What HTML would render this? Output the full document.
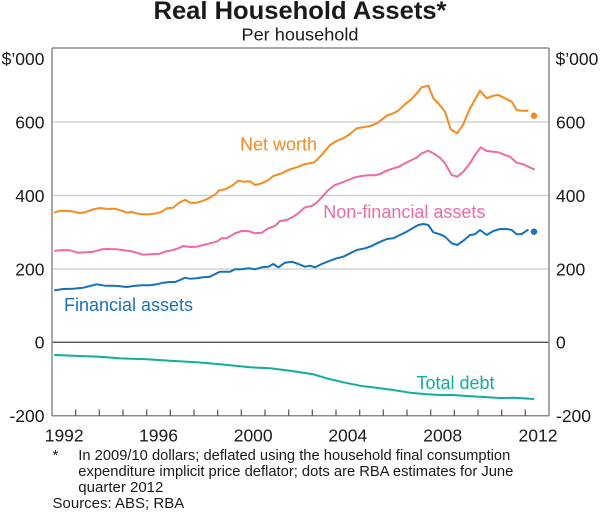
<!DOCTYPE html>
<html>
<head>
<meta charset="utf-8">
<style>
  html, body { margin: 0; padding: 0; background: #ffffff; }
  svg { display: block; }
  text { font-family: "Liberation Sans", Arial, sans-serif; fill: #1a1a1a; }
</style>
</head>
<body>
<svg width="600" height="514" viewBox="0 0 600 514" xmlns="http://www.w3.org/2000/svg">
  <!-- Title -->
  <text x="300" y="19" text-anchor="middle" font-size="25" font-weight="bold" textLength="293" lengthAdjust="spacingAndGlyphs">Real Household Assets*</text>
  <text x="300" y="40.3" text-anchor="middle" font-size="17.5" textLength="117" lengthAdjust="spacingAndGlyphs">Per household</text>

  <!-- Gridlines -->
  <g stroke="#cccccc" stroke-width="1.3">
    <line x1="52" y1="122" x2="549" y2="122"/>
    <line x1="52" y1="195.5" x2="549" y2="195.5"/>
    <line x1="52" y1="269" x2="549" y2="269"/>
  </g>
  <!-- Zero line -->
  <line x1="52" y1="342.3" x2="549" y2="342.3" stroke="#555555" stroke-width="1.3"/>

  <!-- Frame -->
  <g stroke="#8c8c8c" stroke-width="1.5" fill="none">
    <line x1="52" y1="48" x2="549" y2="48"/>
    <line x1="52" y1="48" x2="52" y2="416"/>
    <line x1="549" y1="48" x2="549" y2="416"/>
    <line x1="52" y1="415.8" x2="549" y2="415.8"/>
  </g>

  <!-- X ticks -->
  <g stroke="#555555" stroke-width="1.2">
    <line x1="75.7" y1="409.5" x2="75.7" y2="416"/>
    <line x1="99.3" y1="409.5" x2="99.3" y2="416"/>
    <line x1="123" y1="409.5" x2="123" y2="416"/>
    <line x1="146.7" y1="409.5" x2="146.7" y2="416"/>
    <line x1="170.3" y1="409.5" x2="170.3" y2="416"/>
    <line x1="194" y1="409.5" x2="194" y2="416"/>
    <line x1="217.7" y1="409.5" x2="217.7" y2="416"/>
    <line x1="241.3" y1="409.5" x2="241.3" y2="416"/>
    <line x1="265" y1="409.5" x2="265" y2="416"/>
    <line x1="288.7" y1="409.5" x2="288.7" y2="416"/>
    <line x1="312.3" y1="409.5" x2="312.3" y2="416"/>
    <line x1="336" y1="409.5" x2="336" y2="416"/>
    <line x1="359.7" y1="409.5" x2="359.7" y2="416"/>
    <line x1="383.3" y1="409.5" x2="383.3" y2="416"/>
    <line x1="407" y1="409.5" x2="407" y2="416"/>
    <line x1="430.7" y1="409.5" x2="430.7" y2="416"/>
    <line x1="454.3" y1="409.5" x2="454.3" y2="416"/>
    <line x1="478" y1="409.5" x2="478" y2="416"/>
    <line x1="501.7" y1="409.5" x2="501.7" y2="416"/>
    <line x1="525.3" y1="409.5" x2="525.3" y2="416"/>
  </g>

  <!-- Left axis labels -->
  <g font-size="17.5" text-anchor="end">
    <text x="44.5" y="65">$’000</text>
    <text x="44.5" y="128.3">600</text>
    <text x="44.5" y="201.8">400</text>
    <text x="44.5" y="275.3">200</text>
    <text x="44.5" y="348.6">0</text>
    <text x="44.5" y="422.2">-200</text>
  </g>
  <!-- Right axis labels -->
  <g font-size="17.5" text-anchor="start">
    <text x="555.5" y="65">$’000</text>
    <text x="556" y="128.3">600</text>
    <text x="556" y="201.8">400</text>
    <text x="556" y="275.3">200</text>
    <text x="556" y="348.6">0</text>
    <text x="556" y="422.2">-200</text>
  </g>

  <!-- X labels -->
  <g font-size="17.5" text-anchor="middle">
    <text x="64.2" y="441.7">1992</text>
    <text x="158.5" y="441.7">1996</text>
    <text x="253.2" y="441.7">2000</text>
    <text x="347.8" y="441.7">2004</text>
    <text x="442.7" y="441.7">2008</text>
    <text x="538" y="441.7">2012</text>
  </g>

  <!-- Series -->
  <g fill="none" stroke-width="2" stroke-linejoin="round" stroke-linecap="round">
    <!-- Net worth -->
    <polyline stroke="#f68b1f" points="55,212.3 60,210.7 71.7,211.3 80,213 85,212.3 93.3,209.3 100,208 108.3,209 115,208.7 121.7,210.7 126.7,212.7 131.7,212 138.3,213.7 143.3,214.3 150,214.3 156.7,213.3 161.7,211.7 166.7,208.3 173.3,207.7 178.3,203.3 185,199.7 190,202.7 196.7,202.7 203.3,200.7 210,197.7 216.7,193.3 218.3,190.7 225,189.3 231.7,186 238.3,180.7 243.3,181.7 250,181.3 255,185 261.7,183.3 268.3,180 273.3,176 281.7,173.3 290,169.3 298.3,166.7 305,164 313.3,162.7 316.7,160 321.7,155 330,145 336.7,141 343.3,138.3 350,134 356.7,128.3 363.3,127.3 370,126 376.7,123.3 380,121 386.7,115.7 393.3,113.3 398.3,110.7 405,104.3 411.7,99 416.7,93.3 421.7,87.3 428.3,85.7 433.3,98.3 438.3,103.3 445,111.7 450.7,129.3 457.3,133.3 463.3,124.3 470,108.3 480,90.7 486.7,98.3 493.3,95.7 498.3,95 505,98.3 511.7,101.7 516.7,110 521.7,110.7 527.7,110.7"/>
    <!-- Non-financial assets -->
    <polyline stroke="#ee6aa7" points="55,250.7 63.3,250 70,250.3 78.3,252.7 86.7,252.3 93.3,251.7 101.7,249.3 108.3,249 116.7,249.3 121.7,250 130,251 136.7,252.7 143.3,254.7 150,254.3 160,253.7 165,251.7 171.7,250.3 178.3,248.3 183.3,246 190,247 196.7,246.7 203.3,245 210,243.3 216.7,241.7 221.7,238.3 226.7,238.3 235,233.3 241.7,231 248.3,231 255,233.3 261.7,232.7 268.3,228.3 275,226 280,221 286.7,220 293.3,216.7 298.3,213.3 305,207.3 311.7,206 316.7,202.7 321.7,197.3 328.3,190 335,185 341.7,182.7 348.3,180 355,177.3 361.7,176 368.3,175.3 375,175.3 380,174 386.7,170.7 393.3,168.3 398.3,167 405,163.3 411.7,160 416.7,157.7 421.7,153.3 428.3,150.7 433.3,153.3 440,157.7 445,163.3 451.7,175 457.3,176.7 463.3,171.7 470,163.3 475,155 480.7,147.3 486.7,151 493.3,151.7 498.3,152.3 505,155 510,156.7 516.7,162.7 523.3,164.3 528.3,166.7 534,169.3"/>
    <!-- Financial assets -->
    <polyline stroke="#1672b9" points="55,290.3 63.3,289 73.3,288.7 83.3,287.7 90,286 96.7,284.3 105,285.7 113.3,285.7 120,286.3 126.7,287 133.3,286 141.7,285.3 150,285.3 156.7,284.3 163.3,282.7 170,282 175,282 180,280 185,277.7 190,278.7 196.7,278.3 203.3,277.3 210,276.7 216.7,273.3 220,271.7 230,271.7 235,269.3 241.7,269.3 248.3,268.3 255,269.3 261.7,267.3 268.3,266.7 273.3,264 278.3,267.3 285,262.7 291.7,261.7 298.3,264 305,266.7 310,265.7 315,267.3 321.7,264 330,260.7 336.7,258.3 343.3,256.7 350,253.3 356.7,250 365,248.3 371.7,246 378.3,242.7 386.7,239 393.3,238.3 400,235 406.7,231.7 413.3,227.7 418.3,225 423.3,224 428.3,225 433.3,232.3 440,234.3 445,236.7 451.7,243.3 457.3,245 463.3,240.7 470,235 475,234.3 480,230 486.7,235 493.3,231 500,229 506.7,229 511.7,230 516.7,234.3 521.7,234 527.7,230"/>
    <!-- Total debt -->
    <polyline stroke="#13ad9c" points="55,355 80,356 100,356.7 120,358.4 146.7,359.3 170,360.7 196.7,362.3 220,364.3 250,367.3 270,368.3 290,370.7 313.3,374.3 326.7,378.3 343.3,382.3 360,385.7 380,388.3 393.3,390 410,392.7 426.7,394.3 440,395 453.3,395 466.7,396 480,396.7 500,398 515,397.8 533.3,399"/>
  </g>
  <!-- Estimate dots -->
  <circle cx="534" cy="115.7" r="3.2" fill="#f68b1f"/>
  <circle cx="534" cy="231.7" r="3.2" fill="#1672b9"/>

  <!-- Series labels -->
  <g font-size="18">
    <text x="240" y="150.7" style="fill:#f68b1f">Net worth</text>
    <text x="323.3" y="218.2" style="fill:#ee6aa7">Non-financial assets</text>
    <text x="64" y="311" style="fill:#1672b9">Financial assets</text>
    <text x="416.5" y="388.8" style="fill:#13ad9c">Total debt</text>
  </g>

  <!-- Footnotes -->
  <g font-size="15">
    <text x="52.5" y="460">*</text>
    <text x="78.3" y="460" textLength="432" lengthAdjust="spacingAndGlyphs">In 2009/10 dollars; deflated using the household final consumption</text>
    <text x="78.3" y="476" textLength="435" lengthAdjust="spacingAndGlyphs">expenditure implicit price deflator; dots are RBA estimates for June</text>
    <text x="78.3" y="492">quarter 2012</text>
    <text x="52.5" y="508">Sources: ABS; RBA</text>
  </g>
</svg>
</body>
</html>
